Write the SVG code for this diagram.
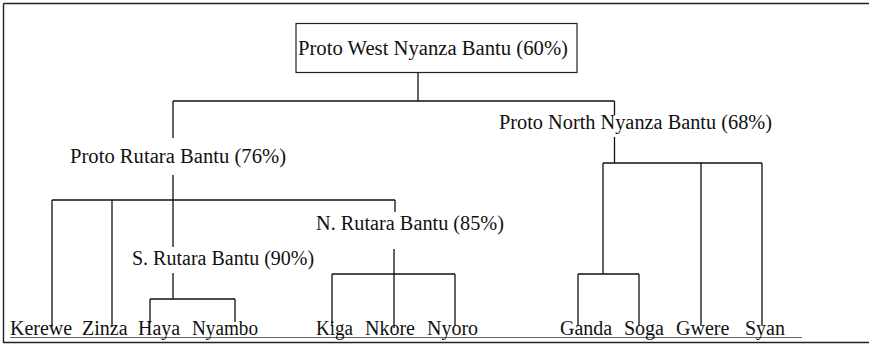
<svg xmlns="http://www.w3.org/2000/svg" width="869" height="344" viewBox="0 0 869 344">
<style>
text{font-family:"Liberation Serif","Times New Roman",serif;font-size:20px;fill:#111}
.c{fill:none;stroke:#111;stroke-width:1.3}
.f{fill:none;stroke:#222;stroke-width:1.4}
.box{fill:none;stroke:#222;stroke-width:1.2}
</style>
<rect width="869" height="344" fill="#fff"/>
<g id="frame">
<path class="f" d="M3.5,3.5 H869 M3.5,3.5 V342.5 H869"/>
<path d="M10,337.5 H802" stroke="#666" stroke-width="1.2" fill="none"/>
</g>
<g id="connectors">
<path class="c" d="M418,73 V101 M173,101 H614.5 M173,101 V138 M614.5,101 V115 M614.5,137 V163"/>
<path class="c" d="M173,175 V247 M52,200 H395 M52,200 V327 M112,200 V327 M395,200 V212"/>
<path class="c" d="M173,273 V299 M150,299 H235 M150,299 V323 M235,299 V322"/>
<path class="c" d="M394,249 V328 M332,274 H455 M332,274 V326 M455,274 V326"/>
<path class="c" d="M603,163 H762 M603,163 V274 M701,163 V326 M762,163 V326 M578,274 H639 M578,274 V326 M639,274 V326"/>
</g>
<g id="n-root">
<rect class="box" x="296" y="23.5" width="281" height="49"/>
<text x="298" y="55" textLength="270" lengthAdjust="spacingAndGlyphs">Proto West Nyanza Bantu (60%)</text>
</g>
<g id="n-rutara"><text x="70" y="163" textLength="216" lengthAdjust="spacingAndGlyphs">Proto Rutara Bantu (76%)</text></g>
<g id="n-north"><text x="499" y="129" textLength="273" lengthAdjust="spacingAndGlyphs">Proto North Nyanza Bantu (68%)</text></g>
<g id="n-nrutara"><text x="316" y="230" textLength="188" lengthAdjust="spacingAndGlyphs">N. Rutara Bantu (85%)</text></g>
<g id="n-srutara"><text x="132" y="265">S. Rutara Bantu (90%)</text></g>
<g id="n-kerewe"><text x="10" y="335">Kerewe</text></g>
<g id="n-zinza"><text x="82" y="335">Zinza</text></g>
<g id="n-haya"><text x="138" y="335">Haya</text></g>
<g id="n-nyambo"><text x="192" y="335" textLength="66" lengthAdjust="spacingAndGlyphs">Nyambo</text></g>
<g id="n-kiga"><text x="316" y="335" textLength="37" lengthAdjust="spacingAndGlyphs">Kiga</text></g>
<g id="n-nkore"><text x="365" y="335">Nkore</text></g>
<g id="n-nyoro"><text x="427" y="335">Nyoro</text></g>
<g id="n-ganda"><text x="560" y="335">Ganda</text></g>
<g id="n-soga"><text x="624" y="335">Soga</text></g>
<g id="n-gwere"><text x="676" y="335">Gwere</text></g>
<g id="n-syan"><text x="745" y="335">Syan</text></g>
</svg>
